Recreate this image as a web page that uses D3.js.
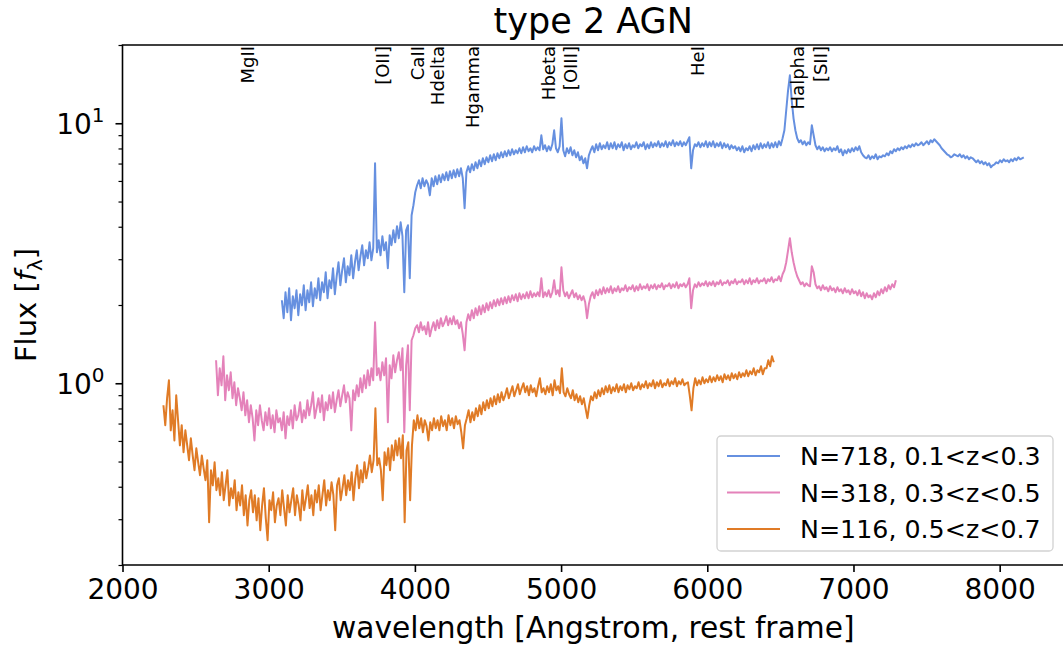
<!DOCTYPE html>
<html><head><meta charset="utf-8">
<script src="https://cdn.jsdelivr.net/npm/d3@7"></script>
<style>
html,body{margin:0;padding:0;background:#fff;}
svg{display:block;font-family:"DejaVu Sans",sans-serif;}
</style></head><body>
<svg id="chart" width="1063" height="650"></svg>
<script>
// Composite spectra, each sampled on a regular rest-frame grid (Angstrom)
const waveStep = 12.5;

const blueStart = 3090;
const blueFlux = [
2.086,1.779,2.239,1.876,2.319,1.748,2.161,1.943,2.279,1.827,
2.200,1.995,2.382,1.909,2.279,2.049,2.446,1.978,2.319,2.123,
2.534,2.086,2.446,2.239,2.673,2.123,2.490,2.319,2.769,2.200,
2.580,2.920,2.382,2.720,3.025,2.446,2.818,2.603,3.107,2.534,
2.920,3.247,2.720,3.079,3.395,2.843,3.247,3.025,3.485,2.972,
3.306,7.016,3.190,3.548,3.107,3.677,3.247,3.485,2.769,3.709,
3.395,3.877,3.485,4.017,3.612,4.161,3.677,2.239,3.877,4.053,
2.534,4.428,4.838,5.428,5.775,6.036,5.623,6.144,5.724,6.036,
5.826,5.286,6.144,5.724,6.254,5.826,6.310,5.930,6.365,6.036,
6.478,6.036,6.536,6.144,6.594,6.199,6.653,6.254,6.712,6.144,
4.711,6.478,6.832,6.478,6.954,6.594,7.079,6.712,7.205,6.832,
7.334,6.954,7.399,7.079,7.531,7.141,7.598,7.205,7.666,7.334,
7.734,7.399,7.803,7.465,7.873,7.531,7.943,7.598,7.873,7.666,
8.014,7.666,8.085,7.734,8.157,7.803,8.014,7.734,8.157,7.873,
8.085,7.873,8.990,7.943,8.230,7.803,8.157,7.873,8.303,9.399,
8.014,7.734,8.157,10.45,7.873,7.465,8.014,7.666,8.085,7.531,
7.873,7.399,7.734,7.205,7.465,7.016,7.334,6.712,7.531,7.873,
8.157,7.734,8.303,7.873,8.377,7.943,8.230,8.014,8.452,7.943,
8.377,8.014,8.452,7.943,8.303,8.085,8.452,7.873,8.303,8.014,
8.377,7.943,8.230,8.085,8.452,8.014,8.303,8.157,8.452,7.943,
8.303,8.014,8.452,8.085,8.377,8.157,8.527,8.085,8.377,8.157,
8.527,8.085,8.452,8.230,8.603,8.157,8.452,8.230,8.527,8.157,
8.452,8.230,8.527,8.835,6.712,7.873,8.303,8.157,8.452,8.085,
8.377,8.157,8.527,8.085,8.452,8.157,8.527,8.085,8.377,8.157,
8.452,8.014,8.377,8.085,8.303,7.943,8.230,8.014,8.157,7.873,
8.085,7.803,8.157,7.734,8.014,7.873,8.157,7.803,8.230,7.943,
8.303,7.943,8.377,8.014,8.303,8.085,8.452,8.014,8.377,8.085,
8.452,8.085,8.527,8.230,8.757,9.399,11.22,13.39,15.30,12.26,
10.45,9.399,8.757,8.452,8.603,8.303,8.527,8.230,8.452,8.303,
9.825,8.990,8.230,7.943,8.157,7.873,8.085,7.803,8.014,7.873,
8.085,7.803,8.014,7.873,8.157,7.734,7.943,7.531,7.873,7.666,
7.943,7.734,8.014,7.803,8.085,7.873,8.157,7.734,7.531,7.399,
7.334,7.531,7.269,7.465,7.334,7.598,7.269,7.465,7.399,7.531,
7.465,7.666,7.531,7.803,7.666,7.943,7.803,8.014,7.873,8.085,
7.943,8.157,8.014,8.230,8.085,8.303,8.157,8.377,8.230,8.303,
8.452,8.230,8.377,8.527,8.303,8.603,8.452,8.680,8.527,8.377,
8.230,8.014,7.873,7.734,7.598,7.531,7.399,7.465,7.598,7.531,
7.465,7.598,7.399,7.531,7.334,7.465,7.269,7.399,7.334,7.205,
7.079,7.205,7.016,7.141,6.954,7.079,6.893,7.016,6.772,6.893,
6.954,7.079,7.016,7.205,7.079,7.269,7.141,7.205,7.079,7.269,
7.141,7.334,7.205,7.399,7.269,7.334,7.399
];

const pinkStart = 2640;
const pinkFlux = [
1.226,0.899,1.142,0.982,1.270,0.860,1.073,0.940,1.102,0.876,
1.009,0.823,0.957,0.876,0.787,0.923,0.753,0.860,0.708,0.823,
0.734,0.603,0.787,0.690,0.823,0.721,0.659,0.774,0.690,0.801,
0.671,0.753,0.648,0.787,0.708,0.734,0.659,0.774,0.614,0.747,
0.690,0.787,0.671,0.823,0.721,0.753,0.845,0.708,0.787,0.734,
0.860,0.753,0.823,0.923,0.734,0.801,0.876,0.774,0.899,0.721,
0.845,0.787,0.899,0.801,0.923,0.774,0.860,0.940,0.816,0.899,
0.982,0.845,0.923,0.876,0.659,0.940,0.860,0.982,0.891,1.045,
0.923,1.073,0.957,1.122,0.982,1.142,1.027,1.717,1.073,1.142,
1.027,1.205,1.073,1.248,0.708,1.173,1.045,1.281,1.102,1.226,
1.316,1.122,1.363,0.648,1.173,1.400,0.787,1.464,1.530,1.628,
1.672,1.571,1.717,1.600,1.657,1.544,1.717,1.517,1.628,1.717,
1.600,1.748,1.628,1.779,1.657,1.717,1.811,1.672,1.779,1.687,
1.811,1.687,1.748,1.628,1.717,1.544,1.339,1.717,1.843,1.748,
1.909,1.779,1.943,1.827,1.978,1.843,1.995,1.876,2.031,1.909,
2.049,1.943,2.086,1.978,2.104,1.995,2.123,2.013,2.142,2.031,
2.161,2.049,2.180,2.086,2.200,2.067,2.219,2.104,2.200,2.123,
2.239,2.123,2.258,2.142,2.219,2.161,2.239,2.161,2.534,2.142,
2.239,2.161,2.279,2.142,2.239,2.490,2.200,2.279,2.161,2.793,
2.279,2.161,2.239,2.123,2.200,2.279,2.142,2.219,2.104,2.180,
2.086,2.161,2.049,1.779,2.013,2.161,2.239,2.123,2.279,2.180,
2.299,2.200,2.340,2.219,2.319,2.239,2.361,2.219,2.319,2.258,
2.361,2.239,2.319,2.279,2.382,2.258,2.340,2.299,2.382,2.258,
2.361,2.279,2.403,2.299,2.361,2.319,2.403,2.279,2.382,2.319,
2.403,2.299,2.382,2.340,2.424,2.299,2.382,2.361,2.424,2.319,
2.403,2.340,2.446,2.319,2.403,2.361,2.424,2.340,2.403,2.534,
1.943,2.279,2.403,2.340,2.446,2.361,2.424,2.382,2.468,2.361,
2.446,2.382,2.468,2.361,2.446,2.403,2.490,2.382,2.446,2.424,
2.490,2.382,2.468,2.424,2.512,2.403,2.468,2.446,2.512,2.403,
2.490,2.424,2.534,2.403,2.490,2.446,2.534,2.424,2.490,2.468,
2.534,2.424,2.512,2.468,2.557,2.446,2.512,2.490,2.580,2.468,
2.626,2.720,2.920,3.247,3.612,3.190,2.920,2.720,2.580,2.490,
2.403,2.446,2.361,2.424,2.382,2.361,2.818,2.673,2.403,2.319,
2.361,2.279,2.382,2.299,2.340,2.258,2.361,2.279,2.319,2.239,
2.340,2.258,2.299,2.219,2.319,2.239,2.279,2.200,2.299,2.219,
2.258,2.180,2.279,2.161,2.239,2.123,2.219,2.142,2.180,2.104,
2.219,2.142,2.258,2.180,2.299,2.219,2.340,2.258,2.382,2.299,
2.403,2.340,2.490
];

const orangeStart = 2280;
const orangeFlux = [
0.823,0.690,0.876,1.027,0.659,0.787,0.603,0.899,0.721,0.577,
0.690,0.543,0.659,0.577,0.506,0.614,0.528,0.463,0.562,0.497,
0.443,0.528,0.471,0.424,0.506,0.292,0.463,0.405,0.497,0.388,
0.431,0.371,0.455,0.355,0.405,0.463,0.339,0.395,0.361,0.424,
0.325,0.381,0.339,0.405,0.311,0.371,0.284,0.355,0.388,0.319,
0.371,0.297,0.361,0.272,0.339,0.395,0.303,0.249,0.355,0.325,
0.381,0.292,0.339,0.361,0.311,0.388,0.331,0.284,0.371,0.319,
0.355,0.395,0.311,0.371,0.339,0.297,0.388,0.325,0.361,0.405,
0.331,0.371,0.311,0.388,0.348,0.405,0.325,0.371,0.424,0.339,
0.388,0.355,0.416,0.371,0.272,0.405,0.431,0.355,0.395,0.443,
0.371,0.424,0.388,0.455,0.355,0.431,0.484,0.395,0.463,0.416,
0.497,0.431,0.471,0.528,0.455,0.506,0.801,0.484,0.515,0.463,
0.355,0.543,0.484,0.562,0.463,0.577,0.506,0.603,0.528,0.614,
0.515,0.631,0.292,0.552,0.593,0.355,0.577,0.721,0.659,0.753,
0.671,0.734,0.648,0.721,0.684,0.603,0.708,0.659,0.734,0.671,
0.721,0.659,0.747,0.684,0.721,0.659,0.753,0.690,0.734,0.671,
0.747,0.696,0.721,0.648,0.562,0.690,0.734,0.787,0.708,0.774,
0.721,0.801,0.747,0.823,0.760,0.845,0.787,0.860,0.801,0.876,
0.816,0.891,0.830,0.907,0.845,0.923,0.860,0.899,0.957,0.876,
0.923,0.974,0.891,0.940,0.991,0.907,0.957,1.000,0.923,0.974,
0.899,0.982,0.923,0.957,0.891,0.974,1.045,0.923,0.957,0.907,
0.974,0.923,0.991,0.899,1.027,0.940,0.974,0.915,1.142,0.923,
0.891,0.957,0.907,0.876,0.940,0.860,0.907,0.845,0.891,0.830,
0.876,0.801,0.734,0.823,0.891,0.860,0.923,0.876,0.940,0.891,
0.957,0.907,0.974,0.923,0.982,0.915,0.965,0.932,0.991,0.923,
0.974,0.940,0.991,0.923,0.982,0.948,1.000,0.940,0.974,0.957,
1.009,0.948,0.991,0.965,1.018,0.957,1.000,0.974,1.027,0.957,
1.009,0.974,1.027,0.965,1.000,0.982,1.036,0.974,1.018,0.991,
1.045,0.974,1.018,0.991,1.036,0.982,1.000,1.009,0.899,0.787,
0.957,1.045,0.982,1.027,0.991,1.055,1.000,1.036,1.009,1.064,
1.009,1.055,1.018,1.073,1.027,1.064,1.009,1.083,1.036,1.073,
1.027,1.093,1.045,1.083,1.036,1.102,1.055,1.093,1.064,1.122,
1.064,1.112,1.083,1.142,1.073,1.122,1.102,1.163,1.083,1.142,
1.142,1.226,1.163,1.270,1.205
];

const seriesLabels = ["N=718, 0.1<z<0.3", "N=318, 0.3<z<0.5", "N=116, 0.5<z<0.7"];
const seriesColors = ["#6690e0", "#e482ba", "#e07b26"];

// Spectral features marked along the top of the panel
const lineNames = ["MgII", "[OII]", "CaII", "Hdelta", "Hgamma", "Hbeta", "[OIII]", "HeI", "Halpha", "[SII]"];
const lineWaves = [2798, 3727, 3960, 4102, 4340, 4861, 5007, 5876, 6563, 6717];

const xTicks = [2000, 3000, 4000, 5000, 6000, 7000, 8000];
const yMajorTicks = [1, 10];
const yMajorExponents = ["0", "1"];
const yMinorTicks = [0.2, 0.3, 0.4, 0.5, 0.6, 0.7, 0.8, 0.9, 2, 3, 4, 5, 6, 7, 8, 9, 20];

const titleText = "type 2 AGN";
const xLabelText = "wavelength [Angstrom, rest frame]";

// ---- layout ----
const svg = d3.select("#chart");
const L = 122.5, R = 1064, T = 45, B = 565;
const x = d3.scaleLinear().domain([2000, 8440]).range([L, R]);
const y = d3.scaleLog().domain([0.2, 20]).range([B, T]);

const spectra = [
  {start: blueStart, flux: blueFlux},
  {start: pinkStart, flux: pinkFlux},
  {start: orangeStart, flux: orangeFlux}
].map((s, i) => ({
  label: seriesLabels[i],
  color: seriesColors[i],
  points: s.flux.map((f, k) => ({w: s.start + k * waveStep, f}))
}));

svg.append("defs").append("clipPath").attr("id", "plotArea")
  .append("rect").attr("x", L).attr("y", T).attr("width", R - L).attr("height", B - T);

const line = d3.line().x(d => x(d.w)).y(d => y(d.f));
const plot = svg.append("g").attr("clip-path", "url(#plotArea)");
plot.selectAll("path.spec").data(spectra).join("path")
  .attr("class", "spec")
  .attr("d", d => line(d.points))
  .attr("fill", "none")
  .attr("stroke", d => d.color)
  .attr("stroke-width", 2)
  .attr("stroke-linejoin", "round");

// feature labels, rotated, hanging from the top spine
svg.append("g").selectAll("text").data(lineNames).join("text")
  .attr("transform", (d, i) => `translate(${x(lineWaves[i]) + 14.5},46) rotate(-90)`)
  .attr("text-anchor", "end")
  .attr("font-size", 18)
  .attr("fill", "#000")
  .text(d => d);

// x axis
const xAxis = svg.append("g").attr("transform", `translate(0,${B})`)
  .call(d3.axisBottom(x).tickValues(xTicks).tickSize(7).tickPadding(7).tickFormat(d3.format("d")));
xAxis.select(".domain").remove();
xAxis.selectAll(".tick line").attr("stroke", "#000").attr("stroke-width", 1.6);
xAxis.selectAll(".tick text").attr("font-size", 28).attr("font-family", "DejaVu Sans").attr("fill", "#000");

// y axis: major and minor ticks on a log scale
const yMinorAxis = svg.append("g").attr("transform", `translate(${L},0)`)
  .call(d3.axisLeft(y).tickValues(yMinorTicks).tickSize(4).tickFormat(""));
yMinorAxis.select(".domain").remove();
yMinorAxis.selectAll(".tick line").attr("stroke", "#000").attr("stroke-width", 1.2);

const yMajorAxis = svg.append("g").attr("transform", `translate(${L},0)`)
  .call(d3.axisLeft(y).tickValues(yMajorTicks).tickSize(7).tickFormat(""));
yMajorAxis.select(".domain").remove();
yMajorAxis.selectAll(".tick line").attr("stroke", "#000").attr("stroke-width", 1.6);

const yLab = svg.append("g").selectAll("text").data(yMajorTicks).join("text")
  .attr("x", L - 18)
  .attr("y", d => y(d) + 11)
  .attr("text-anchor", "end")
  .attr("font-size", 28)
  .attr("fill", "#000");
yLab.append("tspan").text("10");
yLab.append("tspan").attr("dy", -12).attr("font-size", 20).text((d, i) => yMajorExponents[i]);

// frame
svg.append("path")
  .attr("d", `M${R},${T}H${L}V${B}H${R}`)
  .attr("fill", "none").attr("stroke", "#000").attr("stroke-width", 1.6);

// titles
svg.append("text").attr("x", (L + R) / 2).attr("y", 33).attr("text-anchor", "middle")
  .attr("font-size", 35).attr("fill", "#000").text(titleText);
svg.append("text").attr("x", (L + R) / 2).attr("y", 638).attr("text-anchor", "middle")
  .attr("font-size", 29.7).attr("fill", "#000").text(xLabelText);

const yTitle = svg.append("text")
  .attr("transform", `translate(36,${(T + B) / 2}) rotate(-90)`)
  .attr("text-anchor", "middle").attr("font-size", 29).attr("fill", "#000");
yTitle.append("tspan").text("Flux [");
yTitle.append("tspan").attr("font-style", "italic").text("f");
yTitle.append("tspan").attr("font-size", 20).attr("dy", 6).text("\u03bb");
yTitle.append("tspan").attr("dy", -6).text("]");

// legend
const lg = svg.append("g");
lg.append("rect").attr("x", 717).attr("y", 436).attr("width", 336).attr("height", 115)
  .attr("rx", 4).attr("fill", "#fff").attr("fill-opacity", 0.8)
  .attr("stroke", "#d2d2d2").attr("stroke-width", 1.3);
const rows = lg.selectAll("g.row").data(spectra).join("g").attr("class", "row")
  .attr("transform", (d, i) => `translate(0,${456 + i * 36.5})`);
rows.append("line").attr("x1", 727).attr("x2", 780).attr("y1", 0).attr("y2", 0)
  .attr("stroke", d => d.color).attr("stroke-width", 1.8);
rows.append("text").attr("x", 800).attr("y", 9).attr("font-size", 25.3).attr("fill", "#000")
  .text(d => d.label);
</script>
</body></html>
